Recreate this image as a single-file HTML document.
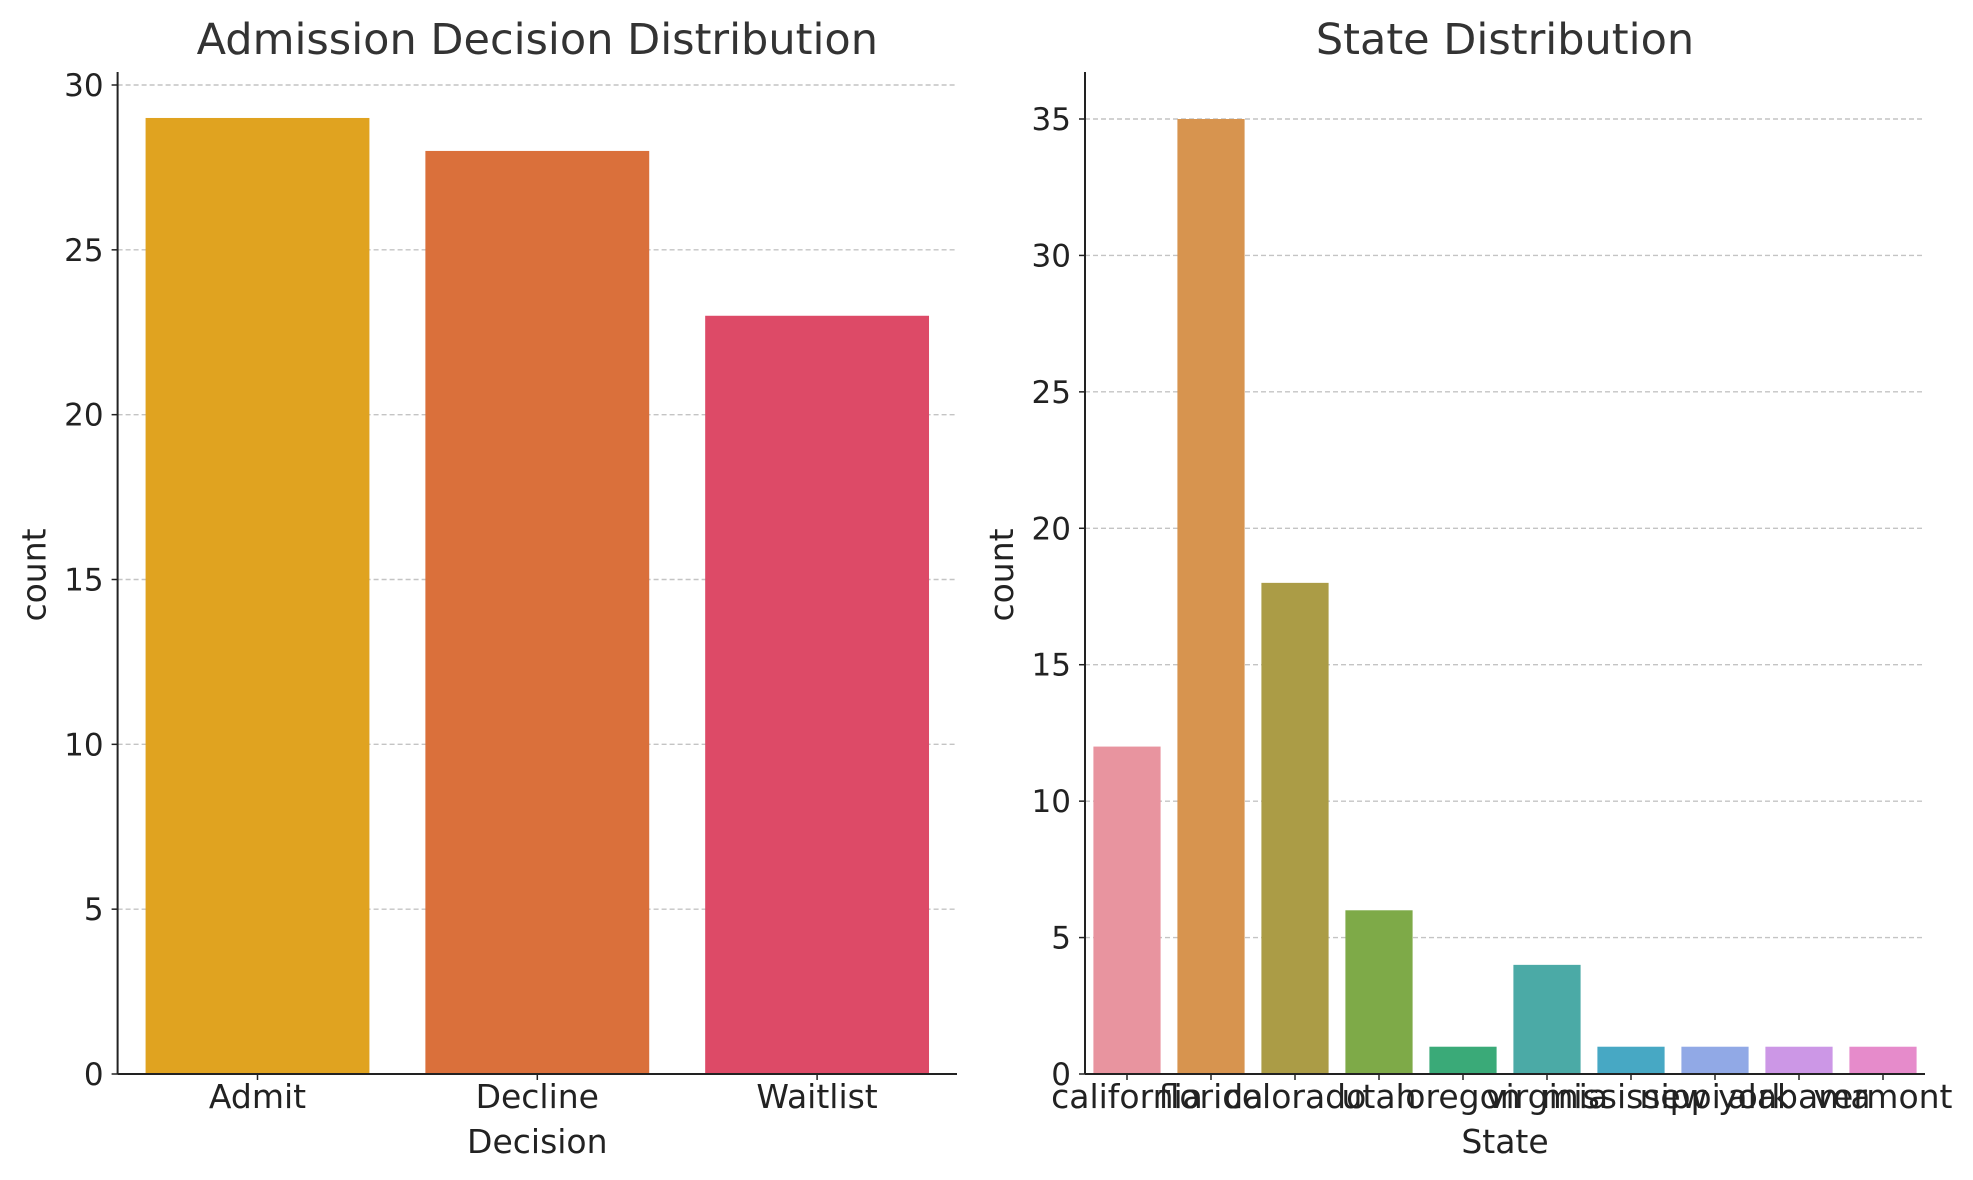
<!DOCTYPE html>
<html><head><meta charset="utf-8"><style>
body{margin:0;background:#fff}
svg{display:block;font-family:"DejaVu Sans","Liberation Sans",sans-serif}
</style></head><body>
<svg id="c" width="1973" height="1180"></svg>
<script>
const decCats=["Admit","Decline","Waitlist"];
const decVals=[29,28,23];
const decColors=["#e0a320","#da703b","#dd4a67"];
const decTicks=[0,5,10,15,20,25,30];
const stCats=["california","florida","colorado","utah","oregon","virginia","mississippi","new york","alabama","vermont"];
const stVals=[12,35,18,6,1,4,1,1,1,1];
const stColors=["#e8949f","#d7944f","#ab9c46","#7eaa48","#3aaa78","#4baaa6","#47a8c4","#91a9e6","#cc97e6","#e68bcb"];
const stTicks=[0,5,10,15,20,25,30,35];
const NS="http://www.w3.org/2000/svg";
const svg=document.getElementById('c');
function mk(t,a,txt){const e=document.createElementNS(NS,t);for(const k in a)e.setAttribute(k,a[k]);if(txt!=null)e.textContent=txt;svg.appendChild(e);return e;}
function panel(o){
  const {x0,x1,y0,ytop,yTopVal,cats,vals,colors,ticks,title,xlabel,pre}=o;
  const n=cats.length, cw=(x1-x0)/n;
  const y=v=>y0-(v/yTopVal)*(y0-o.yRef);
  const xc=i=>x0+cw*(i+0.5);
  ticks.forEach(t=>{
    if(t>0){const g=mk('line',{x1:x0,x2:x1,y1:y(t),y2:y(t),stroke:'#c4c4c4','stroke-width':1.4,'stroke-dasharray':'5,3'});
    }
    const l=mk('text',{x:x0-14,y:y(t)+11,'text-anchor':'end','font-size':31,fill:'#222'},t);
    
    const tk=mk('line',{x1:x0-6,x2:x0,y1:y(t),y2:y(t),stroke:'#222','stroke-width':1.5});
    
  });
  vals.forEach((v,i)=>{
    const b=mk('rect',{x:xc(i)-cw*0.4,y:y(v),width:cw*0.8,height:y0-y(v),fill:colors[i]});
    
    
    const tk=mk('line',{x1:xc(i),x2:xc(i),y1:y0,y2:y0+6,stroke:'#222','stroke-width':1.5});
    
    const l=mk('text',{x:xc(i),y:y0+34,'text-anchor':'middle','font-size':33,fill:'#222'},cats[i]);
    
  });
  const ax=mk('line',{x1:x0,x2:x0,y1:ytop,y2:y0,stroke:'#222','stroke-width':2});
  
  const bx=mk('line',{x1:x0,x2:x1,y1:y0,y2:y0,stroke:'#222','stroke-width':2});
  
  const t=mk('text',{x:(x0+x1)/2,y:54,'text-anchor':'middle','font-size':43,fill:'#333'},title);
  
  const xl=mk('text',{x:(x0+x1)/2,y:1153,'text-anchor':'middle','font-size':33,fill:'#222'},xlabel);
  
  const yl=mk('text',{x:0,y:0,'text-anchor':'middle','font-size':33,fill:'#222',transform:`translate(${x0-72},575) rotate(-90)`},'count');
  
}
panel({x0:117.6,x1:957,y0:1074,ytop:72,yTopVal:30,yRef:85,cats:decCats,vals:decVals,colors:decColors,ticks:decTicks,title:"Admission Decision Distribution",xlabel:"Decision",pre:"decision"});
panel({x0:1085,x1:1925,y0:1074,ytop:72,yTopVal:35,yRef:119,cats:stCats,vals:stVals,colors:stColors,ticks:stTicks,title:"State Distribution",xlabel:"State",pre:"state"});
</script>
</body></html>
